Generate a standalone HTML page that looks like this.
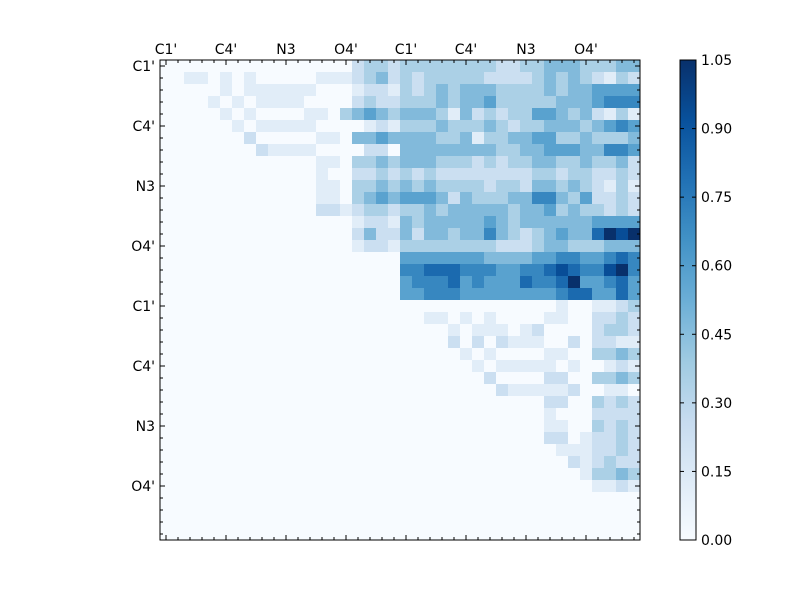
<!DOCTYPE html>
<html><head><meta charset="utf-8"><style>
html,body{margin:0;padding:0;background:#fff;}
svg text{font-family:"DejaVu Sans","Liberation Sans",sans-serif;font-size:14px;fill:#000;}
</style></head><body>
<svg id="s" width="800" height="600" xmlns="http://www.w3.org/2000/svg">
<defs>
<linearGradient id="cb" x1="0" y1="1" x2="0" y2="0">
<stop offset="0" stop-color="#f7fbff"/><stop offset="0.125" stop-color="#deebf7"/>
<stop offset="0.25" stop-color="#c6dbef"/><stop offset="0.375" stop-color="#9ecae1"/>
<stop offset="0.5" stop-color="#6baed6"/><stop offset="0.625" stop-color="#4292c6"/>
<stop offset="0.75" stop-color="#2171b5"/><stop offset="0.875" stop-color="#08519c"/>
<stop offset="1" stop-color="#08306b"/>
</linearGradient>
</defs>
<rect x="0" y="0" width="800" height="600" fill="#fff"/>
<g id="cells"></g>
<rect x="160" y="60" width="480" height="480" fill="none" stroke="#000" stroke-width="1"/>
<g id="ticks" stroke="#000" stroke-width="1"></g>
<g id="labels"></g>
<rect x="680" y="60" width="16" height="480" fill="url(#cb)" stroke="#000" stroke-width="1"/>
<g id="cbt" stroke="#000" stroke-width="1"></g>
<g id="cbl"></g>
</svg>
<script>
var A=["00000000000000002332","00110101000001112342","00000101111110001221","00001010111100002322","00000101000011034543","00000010111110000121","00000002000001104454","00000000211110000220","00000000000001103343","00000000000001002232","00000000000001103343","00000000000001103454","00000000000002212332","00000000000000001221","00000000000000002422","00000000000000001221","00000000000000000000","00000000000000000000","00000000000000000000","00000000000000000000"];
var B=["33333333223344433344","32333332222343432132","32343444333343445555","33343445333334445666","44431423233554342131","33343334323344434565","44433413344553343334","44444444334455544665","44433323233443343342","32322222222332332232","43433332332443432131","55542433344664352232","33434444434453433232","43444445434444445555","42443446432345447989","33333333222344333444","55555554444556655676","66777666556678766896","56667565557667955675","55666555555556775575"];
var C=["00000000000001001123","00110101000011002232","00001011101200002332","00002020211100202211","00000101000011003343","00000010111110100121","00000002000022003343","00000000211111200110","00000000000022003232","00000000000010002222","00000000000011003232","00000000000022012232","00000000000001112232","00000000000000212322","00000000000000013343","00000000000000001121","00000000000000000000","00000000000000000000","00000000000000000000","00000000000000000000"];
var stops=["f7fbff","deebf7","c6dbef","9ecae1","6baed6","4292c6","2171b5","08519c","08306b"];
function col(d){var t=Math.min(d/9,1)*8;var i=Math.min(Math.floor(t),7),f=t-i;
 var a=stops[i],b=stops[i+1],o="#";
 for(var k=0;k<3;k++){var x=parseInt(a.substr(2*k,2),16),y=parseInt(b.substr(2*k,2),16);
 var v=Math.round(x+(y-x)*f).toString(16);if(v.length<2)v="0"+v;o+=v;}return o;}
var NS="http://www.w3.org/2000/svg";
function el(p,n,at,txt){var e=document.createElementNS(NS,n);for(var k in at)e.setAttribute(k,at[k]);if(txt!=null)e.textContent=txt;p.appendChild(e);return e;}
var g=document.getElementById("cells");
el(g,"rect",{x:160,y:60,width:480,height:480,fill:"#f7fbff"});
for(var r=0;r<40;r++)for(var c=0;c<40;c++){
 var d=0;
 if(r<20&&c<20)d=+A[r][c];else if(r<20)d=+B[r][c-20];else if(c>=20)d=+C[r-20][c-20];
 if(d>0)el(g,"rect",{x:160+c*12,y:60+r*12,width:12,height:12,fill:col(d),"shape-rendering":"crispEdges"});
}
var t=document.getElementById("ticks");
for(var i=0;i<40;i++){var p=166+i*12;var L=(i%5==0)?5:3;
 el(t,"line",{x1:p,y1:60,x2:p,y2:60+L});el(t,"line",{x1:p,y1:540,x2:p,y2:540-L});
 el(t,"line",{x1:160,y1:p-100,x2:160+L,y2:p-100});el(t,"line",{x1:640,y1:p-100,x2:640-L,y2:p-100});}
var lab=["C1'","C4'","N3","O4'","C1'","C4'","N3","O4'"];
var lg=document.getElementById("labels");
for(var i=0;i<8;i++){el(lg,"text",{x:166+i*60,y:54,"text-anchor":"middle","font-size":"15"},lab[i]);
 el(lg,"text",{x:155,y:71+i*60,"text-anchor":"end","font-size":"15"},lab[i]);}
var ct=document.getElementById("cbt"),cl=document.getElementById("cbl");
var v=["0.00","0.15","0.30","0.45","0.60","0.75","0.90","1.05"];
for(var i=0;i<8;i++){var y=540-i*480/7;
 el(ct,"line",{x1:696,y1:y,x2:692,y2:y});el(ct,"line",{x1:680,y1:y,x2:684,y2:y});
 el(cl,"text",{x:701,y:y+5,"font-size":"15"},v[i]);}
</script>
</body></html>
